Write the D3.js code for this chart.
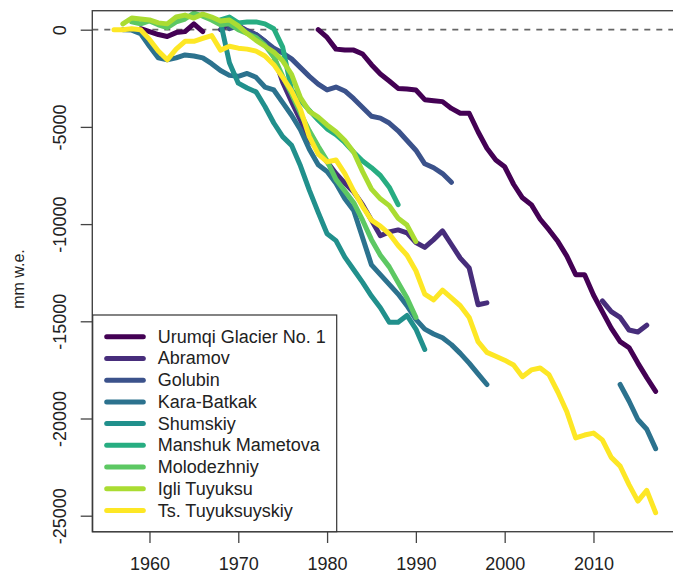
<!DOCTYPE html>
<html><head><meta charset="utf-8">
<script src="https://cdn.jsdelivr.net/npm/d3@7"></script>
<style>
html,body{margin:0;padding:0;background:#fff;}
svg{display:block;font-family:"Liberation Sans",Arial,Helvetica,sans-serif;}
</style></head>
<body>
<svg id="chart" width="673" height="575"></svg>
<script>
const years = [1956,1957,1958,1959,
1960,1961,1962,1963,1964,1965,1966,1967,1968,1969,
1970,1971,1972,1973,1974,1975,1976,1977,1978,1979,
1980,1981,1982,1983,1984,1985,1986,1987,1988,1989,
1990,1991,1992,1993,1994,1995,1996,1997,1998,1999,
2000,2001,2002,2003,2004,2005,2006,2007,2008,2009,
2010,2011,2012,2013,2014,2015,2016,2017];

const N = null;
const urumqi = [N,N,N,50,
-100,-250,-350,-150,-100,300,-100,N,N,N,
N,N,N,N,N,N,N,N,N,0,
-400,-1000,-1050,-1050,-1250,-1800,-2280,-2640,-3020,-3050,
-3100,-3600,-3650,-3700,-4050,-4300,-4300,-5250,-6100,-6700,
-7050,-7950,-8650,-9000,-9750,-10300,-10900,-11650,-12600,-12600,
-13650,-14500,-15350,-16050,-16350,-17150,-17900,-18600];
const abramov = [N,N,N,N,
N,N,N,N,N,N,N,N,0,300,
200,-50,-250,-600,-1350,-2700,-3700,-4650,-5650,-6200,
-6800,-7400,-7900,-8350,-9000,-9800,-10600,-10400,-10300,-10450,
-10950,-11200,-10800,-10350,-11050,-11750,-12250,-14150,-14050,N,
N,N,N,N,N,N,N,N,N,N,
N,-13950,-14500,-14800,-15450,-15550,-15200,N];
const golubin = [N,N,N,N,
N,N,N,N,N,N,N,N,N,50,
200,-100,-250,-600,-950,-1200,-1500,-1950,-2400,-2800,
-3100,-2950,-3150,-3550,-4000,-4450,-4550,-4800,-5200,-5700,
-6200,-6900,-7100,-7400,-7850,N,N,N,N,N,
N,N,N,N,N,N,N,N,N,N,
N,N,N,N,N,N,N,N];
const karaBatkak = [N,0,-20,-200,
-850,-1450,-1550,-1450,-1300,-1350,-1450,-1750,-2100,-2350,
-2400,-2250,-2450,-2950,-3100,-3750,-4400,-5150,-6150,-6950,
-7300,-7900,-8700,-9300,-10700,-12100,-12600,-13100,-13600,-14200,
-14900,-15400,-15650,-15850,-16200,-16650,-17150,-17700,-18250,N,
N,N,N,N,N,N,N,N,N,N,
N,N,N,-18250,-19100,-20050,-20550,-21550];
const shumskiy = [N,N,N,N,
N,N,N,N,N,N,N,600,400,-1700,
-2750,-3000,-3200,-3950,-4800,-5500,-5950,-7000,-8250,-9400,
-10500,-10850,-11700,-12350,-13000,-13700,-14300,-15050,-15050,-14700,
-15400,-16450,N,N,N,N,N,N,N,N,
N,N,N,N,N,N,N,N,N,N,
N,N,N,N,N,N,N,N];
const manshuk = [N,N,N,N,
N,N,N,N,N,N,N,N,500,650,
350,400,400,300,50,-900,-3100,-3650,-4150,-4650,
-5100,-5400,-5800,-6300,-6750,-7100,-7500,-8100,-9000,N,
N,N,N,N,N,N,N,N,N,N,
N,N,N,N,N,N,N,N,N,N,
N,N,N,N,N,N,N,N];
const molodezhniy = [N,N,400,300,
450,250,100,400,550,850,700,500,250,300,
0,-200,-400,-800,-1400,-2400,-3300,-4300,-5200,-6000,
-6750,-7700,-8300,-8900,-9800,-10800,-11600,-12200,-13000,-13800,
-14800,N,N,N,N,N,N,N,N,N,
N,N,N,N,N,N,N,N,N,N,
N,N,N,N,N,N,N,N];
const igliTuyuksu = [N,300,600,550,
500,350,300,650,750,600,800,650,450,500,
200,-200,-550,-850,-1150,-1600,-2300,-3500,-4200,-4500,
-4900,-5250,-5700,-6300,-7300,-8200,-8700,-9050,-9700,-10050,
-10900,N,N,N,N,N,N,N,N,N,
N,N,N,N,N,N,N,N,N,N,
N,N,N,N,N,N,N,N];
const tsTuyuksuyskiy = [0,0,50,0,
-500,-1100,-1550,-1000,-600,-600,-450,-300,-1050,-850,
-950,-1000,-1100,-1350,-1800,-2450,-3150,-4100,-5500,-6400,
-6800,-6700,-7400,-8300,-9100,-9800,-10100,-10500,-11100,-11600,
-12400,-13600,-13900,-13400,-13800,-14200,-14800,-16050,-16600,-16800,
-17000,-17250,-17850,-17500,-17400,-17750,-18650,-19650,-21000,-20850,
-20750,-21100,-22000,-22450,-23400,-24250,-23700,-24850];

const seriesNames = ["Urumqi Glacier No. 1","Abramov","Golubin","Kara-Batkak","Shumskiy","Manshuk Mametova","Molodezhniy","Igli Tuyuksu","Ts. Tuyuksuyskiy"];
const seriesValues = [urumqi, abramov, golubin, karaBatkak, shumskiy, manshuk, molodezhniy, igliTuyuksu, tsTuyuksuyskiy];
const colors = ["#440154","#472D7B","#3B528B","#2C728E","#21908C","#27AD81","#5DC863","#AADC32","#FDE725"];
const xTicks = [1960,1970,1980,1990,2000,2010];
const yTicks = [0,-5000,-10000,-15000,-20000,-25000];
const yLabel = "mm w.e.";

const svg = d3.select("#chart");
const L = 92.3, R = 677.3, T = 10.7, B = 531.7;
const x = d3.scaleLinear().domain([1953.56, 2019.44]).range([L, R]);
const y = d3.scaleLinear().domain([-25823, 977]).range([B, T]);

svg.append("defs").append("clipPath").attr("id","clip")
  .append("rect").attr("x",L).attr("y",T).attr("width",R-L).attr("height",B-T);

// zero reference line
svg.append("line")
  .attr("x1",L).attr("x2",R).attr("y1",y(0)).attr("y2",y(0))
  .attr("stroke","#666").attr("stroke-width",1.8).attr("stroke-dasharray","6,6");

const line = d3.line()
  .defined(d => d.v !== null)
  .x(d => x(d.yr)).y(d => y(d.v));

const gLines = svg.append("g").attr("clip-path","url(#clip)");
seriesValues.forEach((vals, i) => {
  const data = years.map((yr, j) => ({yr, v: vals[j]}));
  gLines.append("path").datum(data)
    .attr("d", line)
    .attr("fill","none")
    .attr("stroke", colors[i])
    .attr("stroke-width", 5)
    .attr("stroke-linejoin","round")
    .attr("stroke-linecap","round");
});

// axes
const xAxis = svg.append("g").attr("transform",`translate(0,${B})`)
  .call(d3.axisBottom(x).tickValues(xTicks).tickFormat(d3.format("d")).tickSize(11.3).tickPadding(0));
xAxis.select(".domain").remove();
xAxis.selectAll(".tick line").attr("stroke","#444").attr("stroke-width",1.3);
xAxis.selectAll(".tick text").attr("y",38.5).attr("dy",null)
  .attr("font-size","18px").attr("fill","#222").attr("font-family","Liberation Sans, Arial, sans-serif");

const yAxis = svg.append("g").attr("transform",`translate(${L},0)`)
  .call(d3.axisLeft(y).tickValues(yTicks).tickFormat(d3.format("d")).tickSize(11.6));
yAxis.select(".domain").remove();
yAxis.selectAll(".tick line").attr("stroke","#444").attr("stroke-width",1.3);
yAxis.selectAll(".tick text")
  .attr("x",null).attr("dy",null)
  .attr("text-anchor","middle").attr("dominant-baseline","central")
  .attr("transform","translate(-32,0) rotate(-90)")
  .attr("font-size","18px").attr("fill","#222").attr("font-family","Liberation Sans, Arial, sans-serif")
  .text(d => d3.format("d")(d).replace("−","-"));

// box
svg.append("rect").attr("x",L).attr("y",T).attr("width",R-L).attr("height",B-T)
  .attr("fill","none").attr("stroke","#444").attr("stroke-width",1.4);

// y label
svg.append("text")
  .attr("transform",`translate(18,279) rotate(-90)`)
  .attr("text-anchor","middle").attr("dominant-baseline","central")
  .attr("font-size","16px").attr("fill","#222")
  .text(yLabel);

// legend
const lg = svg.append("g");
lg.append("rect").attr("x",92.7).attr("y",315).attr("width",244).attr("height",B-315)
  .attr("fill","#fff").attr("stroke","#333").attr("stroke-width",1.2);
seriesNames.forEach((name, i) => {
  const yy = 336.7 + i*21.73;
  lg.append("line").attr("x1",106.7).attr("x2",143.3).attr("y1",yy).attr("y2",yy)
    .attr("stroke",colors[i]).attr("stroke-width",5).attr("stroke-linecap","round");
  lg.append("text").attr("x",157.7).attr("y",yy).attr("dominant-baseline","central")
    .attr("font-size","18px").attr("fill","#222").text(name);
});
</script>
</body></html>
